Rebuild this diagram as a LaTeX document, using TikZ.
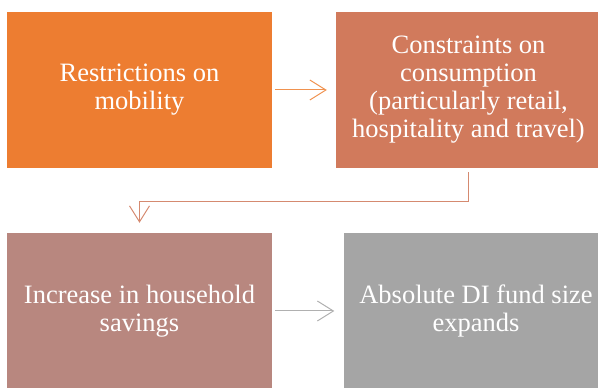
\documentclass[tikz,border=0pt]{standalone}
\usepackage{fontspec}
\setmainfont{Liberation Serif}
\usetikzlibrary{arrows.meta}
\definecolor{cOrange}{HTML}{ED7D31}
\definecolor{cSalmon}{HTML}{D17A5C}
\definecolor{cRose}{HTML}{B8877F}
\definecolor{cGrey}{HTML}{A5A5A5}
\definecolor{aOrange}{HTML}{F0924F}
\definecolor{aSalmon}{HTML}{D58A70}
\definecolor{aGrey}{HTML}{B0B0B0}
\tikzset{
  box/.style={rectangle, inner sep=0pt, minimum width=265pt, minimum height=156pt,
    text=white, align=center, font=\fontsize{26.5}{28}\selectfont},
  conn/.style={line width=1pt, -{Straight Barb[length=16pt,width=20pt]}}
}
\begin{document}
\begin{tikzpicture}[x=1pt,y=1pt]
\useasboundingbox (0,0) rectangle (598,388);
\clip (0,0) rectangle (598,388);
\node[box, fill=cOrange] (b1) at (139.5,298) {Restrictions on\\mobility};
\node[box, fill=cSalmon] (b2) at (468.5,298) {Constraints on\\consumption\\(particularly retail,\\hospitality and travel)};
\node[box, fill=cRose] (b3) at (139.5,77) {Increase in household\\savings};
\node[box, fill=cGrey] (b4) at (476,77) {Absolute DI fund size\\expands};
\draw[conn, aOrange, shorten <=3pt, shorten >=9pt] (b1.east) -- (b2.west);
\draw[conn, aSalmon, shorten >=10pt] ([yshift=-4pt]b2.south) -- ++(0,-29) -| (b3.north);
\draw[conn, aGrey, shorten <=3pt, shorten >=9pt] (b3.east) -- (b3.east -| b4.west);
\end{tikzpicture}
\end{document}
